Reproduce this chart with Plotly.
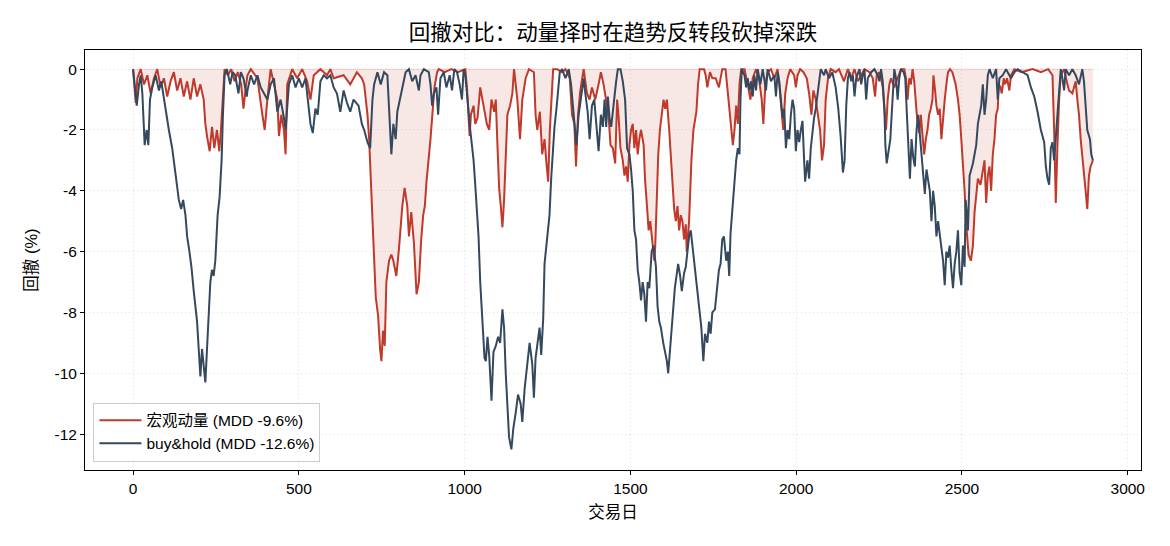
import plotly.graph_objects as go

# ---- data ----
days_mom = [0, 3, 8, 13, 23, 33, 43, 53, 63, 73, 83, 93, 103, 113, 123, 133, 143, 153, 163, 173, 183, 193, 203, 213, 218, 223, 231, 238, 245, 253, 260, 265, 271, 276, 286, 296, 306, 316, 326, 333, 340,
            345, 355, 375, 390, 397, 405, 415, 435, 440, 447, 455, 460, 465, 480, 495, 510, 525, 535, 545, 565, 585, 595, 605, 635, 655, 675, 690,
            697, 707, 712, 719, 725, 732, 739, 745, 749, 754, 759, 764, 772, 779, 785, 794, 802, 812, 819, 827, 832, 839, 847, 855, 862, 869, 875, 880, 885, 897, 902, 909, 917, 922, 940, 960, 980, 1002, 1007, 1015, 1019, 1027, 1032, 1039, 1047, 1052, 1059,
            1067, 1074, 1081, 1089, 1094, 1099, 1104, 1109, 1114, 1119, 1124, 1129, 1137, 1144, 1149, 1154, 1159, 1167, 1174, 1184, 1194, 1209, 1214, 1219, 1227, 1234, 1241, 1246, 1252, 1257, 1262, 1267, 1279, 1294, 1304, 1317, 1324, 1331, 1336, 1342, 1349, 1359, 1369, 1377, 1384, 1394, 1404, 1411, 1419,
            1427, 1434, 1440, 1447, 1454, 1460, 1464, 1470, 1477, 1482, 1487, 1492, 1497, 1502, 1507, 1512, 1517, 1522, 1527, 1532, 1540, 1544, 1550, 1555, 1560, 1567, 1572, 1575, 1580, 1584, 1589, 1594, 1600, 1605, 1610, 1617, 1622, 1627, 1632, 1637, 1642, 1647, 1652, 1657, 1662, 1667, 1670, 1677, 1680, 1684, 1690, 1694, 1699, 1704, 1709, 1722, 1727, 1732, 1740, 1747, 1757, 1767, 1777, 1787,
            1792, 1799, 1806, 1809, 1814, 1819, 1824, 1829, 1834, 1844, 1854, 1862, 1869, 1879, 1889, 1896, 1901, 1907, 1914, 1924, 1934, 1944, 1949, 1956, 1961, 1967, 1974, 1982, 1994, 1999, 2004, 2012, 2022, 2032, 2039, 2046, 2052, 2059, 2066, 2072, 2078, 2084, 2089, 2096, 2104, 2119, 2129, 2144, 2156,
            2166, 2176, 2186, 2196, 2206, 2221, 2231, 2238, 2243, 2251, 2256, 2261, 2266, 2271, 2276, 2281, 2286, 2296, 2306, 2316, 2326, 2331, 2336, 2341, 2346, 2351, 2356, 2361, 2366, 2371, 2376, 2381, 2386, 2391, 2396, 2401, 2406, 2411, 2414, 2418, 2423, 2428, 2433, 2438, 2443, 2448, 2453, 2458, 2464, 2471, 2476, 2481, 2488, 2493, 2498, 2503,
            2508, 2512, 2516, 2520, 2527, 2533, 2538, 2543, 2548, 2556, 2563, 2568, 2573, 2578, 2583, 2588, 2593, 2598, 2603, 2608, 2611, 2616, 2620, 2626, 2630, 2636, 2643, 2648, 2658, 2680, 2713, 2738, 2760, 2773, 2778, 2783, 2788, 2793, 2798, 2808, 2818, 2823, 2833, 2843, 2848, 2853, 2858, 2863, 2868, 2873, 2878, 2883, 2888, 2895]
dd_mom = [0, -0.5, -1.1, -0.3, 0, -0.5, -0.2, -0.8, -0.3, 0, -0.6, -0.3, -0.9, -0.4, -0.1, -0.7, -0.3, -0.9, -0.4, -1.0, -0.3, -0.9, -0.5, -1.0, -1.8, -2.2, -2.7, -1.9, -2.6, -2.0, -2.7, -2.0, -0.8, 0, -0.2, 0, -0.4, -0.1, -0.5, -1.3, -0.6,
          -0.2, 0, -0.3, -1.5, -2.0, -1.0, 0, -1.0, -2.2, -1.5, -2.0, -2.8, -0.5, 0, -0.3, 0, -0.4, -1.0, -0.2, 0, -0.2, 0, -0.3, -0.2, -0.5, -0.1, -0.3,
          -0.5, -1.5, -2.3, -3.9, -5.7, -7.5, -8.1, -9.2, -9.6, -8.6, -9.1, -7.0, -6.3, -6.1, -6.3, -6.8, -5.9, -4.5, -3.9, -4.5, -5.5, -4.7, -5.7, -7.4, -7.0, -5.6, -4.8, -4.5, -3.7, -2.3, -1.5, -0.6, -0.1, 0, -0.1, 0, -0.1, 0, -0.6, -2.2, -1.5, -1.2, -1.8, -1.6, -0.6, -0.9, -1.4,
          -1.8, -2.0, -1.0, -1.4, -1.0, -2.5, -3.9, -4.5, -5.2, -4.3, -2.8, -1.5, -1.2, -0.8, 0, -0.6, -1.0, -2.3, -1.0, -0.3, 0, -0.1, -1.5, -2.0, -1.4, -2.8, -2.3, -3.0, -3.7, -2.0, -0.8, 0, 0, -0.1, 0, -0.3, -1.5, -1.8, -3.2, -1.5, -0.7, 0, -0.8, -1.0, -0.6, -1.0, -0.5, -0.1, -0.5,
          -1.0, -1.5, -2.5, -2.6, -3.1, -1.0, -1.5, -2.6, -3.0, -3.5, -3.2, -3.7, -2.5, -2.0, -1.8, -2.6, -2.0, -2.8, -2.3, -2.0, -2.5, -3.6, -4.5, -5.3, -5.0, -5.8, -6.3, -5.8, -4.0, -2.8, -2.0, -1.5, -1.0, -1.3, -1.0, -2.0, -3.0, -4.0, -4.6, -5.0, -4.5, -5.3, -4.8, -5.0, -5.6, -5.1, -6.0, -5.0, -4.0, -3.0, -2.0, -1.7, -1.4, -0.5, 0, 0, -0.2, -0.6, -0.1, -0.3, -0.3, -0.6, 0, 0,
          -0.6, -1.5, -2.2, -2.5, -2.0, -1.2, -1.8, -0.5, 0, 0, -0.5, -1.0, -0.3, 0, -0.4, -1.0, -1.8, -0.5, -0.1, 0, -0.3, 0, -0.5, -1.5, -2.0, -0.8, -0.3, 0, -0.2, -0.6, -0.2, 0, -0.1, -0.3, -0.8, -1.5, -0.7, -1.0, -1.5, -2.0, -3.0, -2.5, -1.0, -0.3, 0, -0.1, 0, -0.4, 0,
          -0.3, 0, -0.4, -0.2, 0, -0.1, -0.3, -0.9, -0.2, -0.1, -0.3, -0.6, -1.3, -2.0, -1.0, -0.5, -0.3, -0.6, -0.3, 0, 0, -0.3, -1.0, -0.3, -0.5, 0, -0.4, -1.0, -1.8, -2.1, -1.5, -2.2, -2.8, -2.3, -2.0, -1.5, -1.3, -1.0, -0.2, -0.6, -1.2, -1.5, -1.3, -2.3, -1.5, -1.0, -0.5, -0.1, 0, -0.1, -0.3, -0.5, -1.0, -1.5, -2.3, -3.0,
          -4.0, -5.0, -5.5, -6.1, -6.3, -5.8, -4.7, -4.0, -3.6, -3.8, -3.3, -3.0, -4.4, -3.5, -3.2, -4.0, -2.8, -2.3, -1.5, -1.3, -0.5, -0.6, -0.8, -0.3, -0.5, -0.3, -0.7, -0.2, 0, -0.1, 0, -0.1, 0, -0.2, -2.0, -4.4, -2.5, -1.0, -0.2, 0, -0.5, -0.7, -0.8, -0.4, -1.0, -1.5, -2.3, -2.8, -3.5, -4.0, -4.6, -3.5, -3.2, -3.0]

days_bh = [0, 3, 11, 18, 23, 28, 35, 41, 46, 51, 58, 68, 78, 85, 93, 101, 108, 118, 125, 133, 138, 145, 151, 158, 163, 170, 176, 183, 188, 193, 198, 203, 208, 213, 218, 223, 228, 233, 238, 243, 248, 255, 261, 267, 271, 276, 283, 293, 300, 308, 318, 325, 333, 343,
           345, 355, 365, 375, 385, 395, 405, 415, 425, 435, 445, 455, 460, 470, 480, 490, 500, 510, 520, 530, 535, 542, 550, 557, 565, 575, 585, 595, 605, 615, 625, 635, 645, 655, 665, 680, 690, 697,
           707, 715, 722, 727, 737, 747, 757, 767, 775, 779, 785, 792, 797, 805, 812, 822, 832, 842, 852, 862, 867, 877, 892, 897, 902, 907, 915, 920, 927, 937, 945, 955, 962, 969, 977, 985, 992, 997, 1002, 1012, 1017, 1022, 1027, 1032, 1037, 1042, 1047, 1052, 1057, 1060,
           1064, 1069, 1074, 1081, 1087, 1094, 1101, 1107, 1114, 1119, 1124, 1129, 1134, 1141, 1147, 1154, 1161, 1169, 1174, 1181, 1189, 1196, 1204, 1209, 1214, 1221, 1226, 1231, 1237, 1241, 1246, 1251, 1256, 1261, 1266, 1271, 1277, 1281, 1287, 1294, 1304, 1314, 1321, 1329, 1337, 1344, 1351, 1359, 1364, 1371, 1377, 1384, 1391, 1397, 1404, 1411, 1417,
           1422, 1427, 1432, 1437, 1442, 1450, 1457, 1462, 1470, 1477, 1484, 1490, 1497, 1502, 1507, 1512, 1517, 1522, 1527, 1532, 1537, 1542, 1547, 1552, 1557, 1564, 1570, 1577, 1582, 1587, 1592, 1599, 1605, 1610, 1614, 1619, 1624, 1629, 1634, 1640, 1644, 1650, 1655, 1662, 1667, 1672, 1677, 1682, 1687, 1692, 1697, 1702, 1709, 1714, 1720, 1725, 1732, 1737, 1742, 1747, 1755, 1762, 1767, 1772, 1777, 1782,
           1789, 1794, 1798, 1802, 1806, 1810, 1814, 1819, 1824, 1829, 1832, 1836, 1844, 1849, 1854, 1859, 1864, 1869, 1874, 1879, 1884, 1892, 1899, 1909, 1914, 1924, 1934, 1939, 1944, 1949, 1954, 1959, 1964, 1969, 1974, 1979, 1984, 1989, 1994, 1999, 2004, 2009, 2014, 2019, 2024, 2027, 2034, 2039, 2044, 2049, 2054, 2059, 2064, 2069, 2074, 2084, 2089, 2099, 2109, 2119, 2127, 2134, 2141,
           2146, 2151, 2156, 2161, 2166, 2171, 2176, 2181, 2191, 2196, 2201, 2206, 2211, 2216, 2226, 2236, 2246, 2251, 2256, 2261, 2266, 2269, 2273, 2279, 2284, 2288, 2292, 2296, 2301, 2306, 2311, 2316, 2324, 2329, 2334, 2338, 2343, 2348, 2353, 2358, 2363, 2368, 2374, 2378, 2383, 2388, 2393, 2398, 2403, 2408, 2413, 2418, 2423, 2428, 2433, 2438, 2443, 2448, 2453, 2458, 2463, 2468, 2473, 2478, 2483, 2488, 2493, 2498, 2503,
           2508, 2511, 2515, 2518, 2523, 2533, 2543, 2548, 2558, 2563, 2568, 2573, 2578, 2583, 2593, 2603, 2608, 2613, 2623, 2633, 2648, 2658, 2668, 2683, 2698, 2708, 2718, 2728, 2738, 2748, 2753, 2758, 2763, 2768, 2773, 2778, 2783, 2788, 2793, 2798, 2803, 2808, 2813, 2823, 2833, 2843, 2853, 2863, 2868, 2873, 2878, 2886, 2890, 2895]
dd_bh = [0, -0.3, -1.2, -0.5, -0.2, -0.8, -2.5, -2.0, -2.5, -1.0, -0.6, -0.2, -0.7, -0.4, -1.0, -1.5, -2.0, -2.6, -3.2, -3.9, -4.3, -4.6, -4.3, -4.8, -5.5, -6.0, -6.5, -7.3, -7.8, -8.3, -9.2, -10.1, -9.2, -9.8, -10.3, -9.2, -8.0, -7.0, -6.6, -6.8, -6.3, -4.8, -4.2, -3.0, -1.5, -0.2, 0, -0.5, -0.1, -0.2, -0.8, -0.1, -0.3, -0.9,
         -0.7, -0.2, -0.5, -0.2, -0.6, -0.8, -1.0, -0.5, -0.3, -1.4, -1.0, -1.6, -2.0, -0.5, -0.2, -0.6, -0.3, -0.6, -0.3, -1.3, -1.8, -2.1, -1.3, -1.5, -0.4, -0.2, -0.3, -0.2, -0.6, -0.8, -1.4, -0.7, -1.1, -1.4, -1.0, -1.2, -1.8, -2.0,
         -2.4, -2.6, -1.0, -0.5, -0.1, -0.5, -0.1, -0.2, -1.7, -2.8, -1.8, -2.3, -1.4, -1.0, -0.6, -0.1, 0, -0.4, -0.2, -0.7, -0.2, 0, -0.1, -0.5, -1.2, -0.8, -0.6, -1.5, -0.3, -0.1, -0.6, -0.2, -0.7, 0, -0.1, -0.5, -1.0, 0, -0.2, -1.5, -2.0, -2.5, -3.0, -3.8, -4.6, -5.5, -7.0, -8.0, -8.6, -9.5,
         -9.6, -8.8, -9.4, -10.9, -9.3, -9.1, -8.8, -9.0, -7.9, -8.5, -10.0, -11.0, -12.1, -12.5, -11.8, -11.3, -10.7, -11.0, -11.6, -10.5, -9.8, -9.0, -9.7, -10.8, -9.5, -9.0, -8.5, -9.4, -8.2, -6.4, -5.8, -5.2, -4.8, -3.6, -2.6, -1.9, -1.3, -0.8, -0.1, 0, -0.3, 0, -0.5, -1.5, -2.5, -1.5, -1.0, -0.3, -0.8, -1.4, -2.3, -1.2, -1.0, -1.9, -2.7, -1.5, -1.9,
         -1.0, -1.9, -0.9, -1.6, -1.9, -1.0, -0.4, 0, 0, -0.4, -1.0, -2.6, -2.8, -3.3, -4.0, -5.3, -5.6, -6.6, -7.0, -7.6, -7.0, -7.4, -8.3, -7.0, -7.2, -6.0, -5.8, -6.5, -7.8, -8.3, -8.5, -9.0, -9.3, -9.6, -10.0, -9.2, -8.7, -7.9, -7.2, -6.7, -6.4, -6.8, -7.3, -6.7, -6.5, -6.0, -5.5, -5.3, -5.8, -6.3, -6.7, -7.3, -8.0, -8.5, -9.6, -8.7, -9.0, -8.3, -8.7, -8.0, -7.9, -7.0, -6.6, -6.4, -5.6, -5.5,
         -6.3, -6.0, -6.8, -5.4, -4.8, -4.5, -3.6, -3.0, -2.6, -2.8, -1.0, 0, -0.2, -0.6, -0.3, -0.7, -0.4, -0.9, -0.2, -0.7, 0, -0.5, 0, -0.7, 0, -0.4, -0.2, -0.9, -0.1, -0.4, -1.0, -1.6, -1.3, -2.6, -2.0, -2.3, -1.5, -1.0, -1.3, -2.7, -2.0, -2.4, -2.0, -1.7, -3.0, -3.7, -3.0, -3.6, -2.6, -2.0, -1.6, -1.3, -0.8, -0.3, 0, -0.2, 0, -0.3, -0.1, -0.6, -1.3, -2.2, -3.4,
         -3.0, -1.2, -0.3, -0.1, -0.4, -0.2, -0.9, -0.3, 0, -0.5, -0.2, 0, -1.0, -0.3, -0.1, 0, -0.2, -0.4, 0, -0.4, -1.3, -2.5, -3.1, -2.7, -2.3, -1.5, -0.6, 0, -0.3, -1.0, -0.3, 0, -0.1, -0.3, -1.5, -2.6, -3.6, -2.3, -2.9, -3.2, -2.0, -1.5, -2.3, -2.8, -3.3, -4.1, -3.3, -3.6, -4.0, -5.0, -4.0, -4.5, -5.5, -5.0, -5.5, -6.0, -6.3, -7.1, -6.0, -6.2, -5.8, -6.6, -7.2, -6.4, -6.0, -5.3, -6.7, -7.1, -5.8,
         -6.5, -4.3, -4.8, -5.3, -3.5, -3.1, -2.5, -1.8, -1.2, -0.5, -1.5, -1.0, -0.2, 0, -0.3, 0, -1.0, -0.3, -0.2, 0, -0.3, -0.1, 0, -0.1, -0.2, -0.6, -0.9, -1.4, -2.0, -2.4, -3.2, -3.6, -3.8, -2.6, -2.4, -3.0, -2.2, -1.5, -0.8, 0, -0.3, -0.7, 0, -0.2, 0, -0.2, -0.5, 0, -0.4, -1.2, -2.0, -2.3, -2.8, -3.0]

name_mom = "宏观动量 (MDD -9.6%)"
name_bh = "buy&hold (MDD -12.6%)"
x_ticks = [0, 500, 1000, 1500, 2000, 2500, 3000]
y_ticks = [0, -2, -4, -6, -8, -10, -12]
y_tick_text = ["0", "-2", "-4", "-6", "-8", "-10", "-12"]

RED = "#c0392b"
DARK = "#34495e"
FONT = "Liberation Sans, Arial, Noto Sans CJK SC, sans-serif"

fig = go.Figure()
# shaded area between 0 and the momentum drawdown (no legend entry)
fig.add_trace(go.Scatter(x=days_mom, y=[0] * len(days_mom), mode="lines",
                         line=dict(color="rgba(192,57,43,0.18)", width=1),
                         showlegend=False, hoverinfo="skip"))
fig.add_trace(go.Scatter(x=days_mom, y=dd_mom, mode="lines",
                         line=dict(color="rgba(0,0,0,0)", width=0),
                         fill="tonexty", fillcolor="rgba(192,57,43,0.12)",
                         showlegend=False, hoverinfo="skip"))
fig.add_trace(go.Scatter(x=days_mom, y=dd_mom, mode="lines", name=name_mom,
                         line=dict(color=RED, width=2)))
fig.add_trace(go.Scatter(x=days_bh, y=dd_bh, mode="lines", name=name_bh,
                         line=dict(color=DARK, width=2)))

axis_common = dict(showline=True, linecolor="black", linewidth=1, mirror=True,
                   ticks="outside", ticklen=4, tickcolor="black",
                   showgrid=True, gridcolor="rgba(0,0,0,0.13)", griddash="1px,3px", gridwidth=1,
                   zeroline=False, tickfont=dict(size=15.5, color="black", family=FONT))

fig.update_layout(
    width=1170, height=546,
    margin=dict(l=85, r=29, t=50, b=76),
    paper_bgcolor="white", plot_bgcolor="white",
    font=dict(family=FONT, color="black"),
    title=dict(text="回撤对比：动量择时在趋势反转段砍掉深跌", x=0.524, xanchor="center",
               y=0.94, yanchor="middle", font=dict(size=21.5, color="black", family=FONT)),
    xaxis=dict(range=[-145, 3040], tickvals=x_ticks,
               title=dict(text="交易日", font=dict(size=16.5, family=FONT), standoff=10), **axis_common),
    yaxis=dict(range=[-13.18, 0.63], tickvals=y_ticks, ticktext=y_tick_text,
               title=dict(text="回撤 (%)", font=dict(size=16.5, family=FONT), standoff=12), **axis_common),
    legend=dict(x=0.008, y=0.02, xanchor="left", yanchor="bottom", traceorder="normal",
                bgcolor="rgba(255,255,255,0.85)", bordercolor="#cccccc", borderwidth=1,
                font=dict(size=15.5, family=FONT), tracegroupgap=2, itemwidth=42),
    showlegend=True,
)

fig.write_html("out.html")
